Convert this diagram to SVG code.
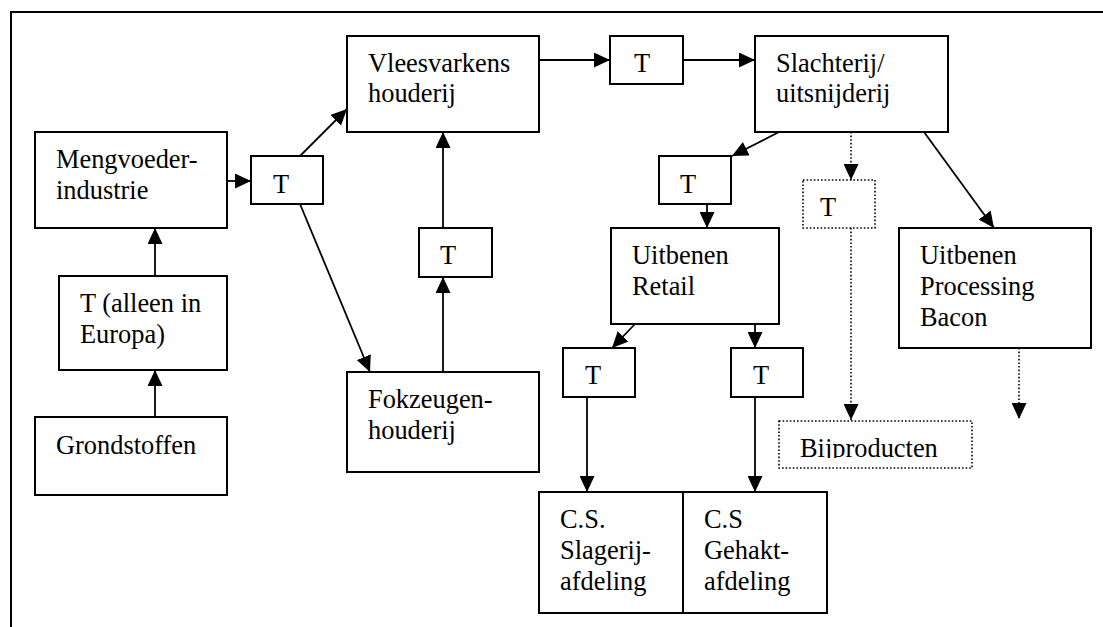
<svg xmlns="http://www.w3.org/2000/svg" width="1103" height="627" viewBox="0 0 1103 627">
<style>
.box{fill:#fff;stroke:#000;stroke-width:2}
.dbox{fill:#fff;stroke:#000;stroke-width:1.6;stroke-dasharray:1.6,2}
.ln{stroke:#000;stroke-width:1.8;fill:none;marker-end:url(#ah)}
.dl{stroke:#000;stroke-width:1.6;stroke-dasharray:1.6,2;fill:none;marker-end:url(#ah)}
text{font-family:"Liberation Serif","Times New Roman",serif;font-size:26.4px;fill:#000}
</style>
<defs>
<marker id="ah" markerUnits="userSpaceOnUse" markerWidth="16" markerHeight="15" refX="16" refY="7.5" orient="auto">
<path d="M0,0 L16,7.5 L0,15 z" fill="#000"/>
</marker>
<clipPath id="bijclip"><rect x="779" y="421" width="193" height="37"/></clipPath>
</defs>
<rect width="1103" height="627" fill="#fff"/>
<path d="M11,627 V12 H1103" fill="none" stroke="#000" stroke-width="2"/>

<g id="connectors">
<line class="ln" x1="227" y1="181" x2="251" y2="181"/>
<line class="ln" x1="300" y1="156" x2="347" y2="109"/>
<line class="ln" x1="300" y1="204" x2="370" y2="372"/>
<line class="ln" x1="539" y1="60" x2="610" y2="60"/>
<line class="ln" x1="683" y1="60" x2="755" y2="60"/>
<line class="ln" x1="443" y1="372" x2="443" y2="277"/>
<line class="ln" x1="443" y1="228" x2="443" y2="132"/>
<line class="ln" x1="155" y1="276" x2="155" y2="228"/>
<line class="ln" x1="155" y1="417" x2="155" y2="370"/>
<line class="ln" x1="779" y1="132" x2="732" y2="156"/>
<line class="dl" x1="851" y1="132" x2="851" y2="180"/>
<line class="ln" x1="924" y1="132" x2="994" y2="228"/>
<line class="ln" x1="707" y1="204" x2="707" y2="228"/>
<line class="ln" x1="635" y1="324" x2="612" y2="348"/>
<line class="ln" x1="755" y1="324" x2="755" y2="348"/>
<line class="ln" x1="587" y1="397" x2="587" y2="492"/>
<line class="ln" x1="755" y1="397" x2="755" y2="492"/>
<line class="dl" x1="851" y1="228" x2="851" y2="420"/>
<line class="dl" x1="1019" y1="348" x2="1019" y2="419"/>
</g>

<g id="mengvoeder"><rect class="box" x="35" y="132" width="192" height="96"/><text x="56" y="168">Mengvoeder-</text><text x="56" y="199">industrie</text></g>
<g id="t-alleen"><rect class="box" x="59" y="276" width="168" height="94"/><text x="80" y="312">T (alleen in</text><text x="80" y="343">Europa)</text></g>
<g id="grondstoffen"><rect class="box" x="35" y="417" width="192" height="78"/><text x="56" y="454">Grondstoffen</text></g>
<g id="t1"><rect class="box" x="251" y="156" width="72" height="48"/><text x="273" y="193">T</text></g>
<g id="vleesvarkens"><rect class="box" x="347" y="36" width="192" height="96"/><text x="368" y="72">Vleesvarkens</text><text x="368" y="102">houderij</text></g>
<g id="t-mid"><rect class="box" x="419" y="228" width="73" height="49"/><text x="440" y="264">T</text></g>
<g id="fokzeugen"><rect class="box" x="347" y="372" width="192" height="100"/><text x="368" y="408">Fokzeugen-</text><text x="368" y="439">houderij</text></g>
<g id="t-top"><rect class="box" x="610" y="36" width="73" height="48"/><text x="634" y="72">T</text></g>
<g id="slachterij"><rect class="box" x="755" y="36" width="193" height="96"/><text x="776" y="72">Slachterij/</text><text x="776" y="102">uitsnijderij</text></g>
<g id="t2"><rect class="box" x="659" y="156" width="72" height="48"/><text x="680" y="193">T</text></g>
<g id="t-dotted"><rect class="dbox" x="803" y="180" width="72" height="48"/><text x="820" y="216">T</text></g>
<g id="uitbenen-retail"><rect class="box" x="611" y="228" width="168" height="96"/><text x="632" y="264">Uitbenen</text><text x="632" y="295">Retail</text></g>
<g id="uitbenen-processing"><rect class="box" x="899" y="228" width="192" height="120"/><text x="920" y="264">Uitbenen</text><text x="920" y="295">Processing</text><text x="920" y="326">Bacon</text></g>
<g id="t-left"><rect class="box" x="563" y="348" width="72" height="49"/><text x="585" y="384">T</text></g>
<g id="t-right"><rect class="box" x="731" y="348" width="72" height="49"/><text x="753" y="384">T</text></g>
<g id="bijproducten"><rect class="dbox" x="779" y="421" width="193" height="47"/><text x="800" y="457" clip-path="url(#bijclip)">Bijproducten</text></g>
<g id="cs-slagerij"><rect class="box" x="539" y="492" width="144" height="121"/><text x="560" y="528">C.S.</text><text x="560" y="559">Slagerij-</text><text x="560" y="590">afdeling</text></g>
<g id="cs-gehakt"><rect class="box" x="683" y="492" width="144" height="121"/><text x="704" y="528">C.S</text><text x="704" y="559">Gehakt-</text><text x="704" y="590">afdeling</text></g>
</svg>
